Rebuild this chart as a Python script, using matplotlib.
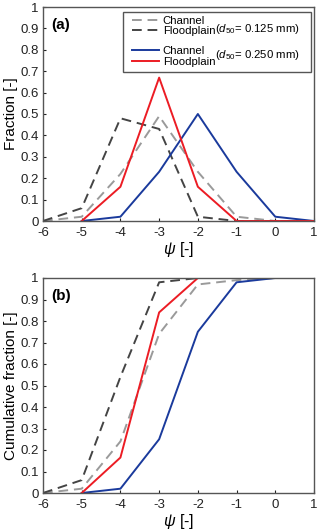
import matplotlib
matplotlib.use("Agg")
import matplotlib.pyplot as plt
from matplotlib.lines import Line2D
from matplotlib.patches import Rectangle

plt.rcParams['font.family'] = ['Liberation Sans', 'DejaVu Sans']
plt.rcParams['mathtext.fontset'] = 'custom'
plt.rcParams['mathtext.rm'] = 'Liberation Sans'
plt.rcParams['mathtext.it'] = 'Liberation Sans:italic'

psi = [-6, -5, -4, -3, -2, -1, 0, 1]

# fraction per psi class
frac_ch_125 = [0.0, 0.02, 0.22, 0.49, 0.23, 0.02, 0.0, 0.0]
frac_fp_125 = [0.0, 0.06, 0.48, 0.43, 0.02, 0.0, 0.0, 0.0]
frac_ch_250 = [None, 0.0, 0.02, 0.23, 0.50, 0.23, 0.02, 0.0]
frac_fp_250 = [None, 0.0, 0.16, 0.67, 0.16, 0.0, 0.0, 0.0]

# cumulative fraction
cum_ch_125 = [0.0, 0.02, 0.24, 0.74, 0.97, 0.99, 1.0, 1.0]
cum_fp_125 = [0.0, 0.06, 0.54, 0.98, 1.0, 1.0, 1.0, 1.0]
cum_ch_250 = [None, 0.0, 0.02, 0.25, 0.75, 0.98, 1.0, 1.0]
cum_fp_250 = [None, 0.0, 0.165, 0.84, 1.0, 1.0, 1.0, 1.0]

yticks = [0, 0.1, 0.2, 0.3, 0.4, 0.5, 0.6, 0.7, 0.8, 0.9, 1]
yticklabels = ["0", "0.1", "0.2", "0.3", "0.4", "0.5", "0.6", "0.7", "0.8", "0.9", "1"]

c_light = "#9a9a9a"
c_dark = "#444444"
c_blue = "#1a3a9c"
c_red = "#ec1c24"
dash = (0, (5, 3))


def clean(x, y):
    pts = [(a, b) for a, b in zip(x, y) if b is not None]
    return [p[0] for p in pts], [p[1] for p in pts]


fig = plt.figure(figsize=(3.2, 5.3), dpi=100)
ax1 = fig.add_axes([43 / 320, 1 - 221 / 530, 271 / 320, 214 / 530])
ax2 = fig.add_axes([43 / 320, 1 - 493 / 530, 271 / 320, 215 / 530])

series = [
    (frac_ch_125, cum_ch_125, c_light, dash),
    (frac_fp_125, cum_fp_125, c_dark, dash),
    (frac_ch_250, cum_ch_250, c_blue, "-"),
    (frac_fp_250, cum_fp_250, c_red, "-"),
]

for f, c, col, ls in series:
    ax1.plot(*clean(psi, f), color=col, ls=ls, lw=1.4)
    ax2.plot(*clean(psi, c), color=col, ls=ls, lw=1.4)

for ax, lab, yl in [(ax1, "(a)", "Fraction [-]"), (ax2, "(b)", "Cumulative fraction [-]")]:
    ax.set_xlim(-6, 1)
    ax.set_ylim(0, 1)
    ax.set_xticks(psi)
    ax.set_xticklabels([str(v) for v in psi])
    ax.set_yticks(yticks)
    ax.set_yticklabels(yticklabels)
    ax.tick_params(direction="in", length=2, labelsize=9.5, colors="#222222")
    ax.tick_params(axis="y", pad=3)
    ax.tick_params(axis="x", pad=4)
    for s in ax.spines.values():
        s.set_color("#555555")
        s.set_linewidth(1.0)
    ax.set_ylabel(yl, fontsize=11, labelpad=2)
    ax.set_xlabel(r"$\psi$ [-]", fontsize=11.5, labelpad=1)
    ax.text(0.03, 0.915, lab, transform=ax.transAxes, fontsize=11, fontweight="bold",
            va="center", ha="left")

# legend box drawn by hand so the d50 notes fit inside
ax1.add_patch(Rectangle((0.295, 0.696), 0.695, 0.281, transform=ax1.transAxes,
                        facecolor="white", edgecolor="#555555", lw=1.0, zorder=4))

handles = [
    Line2D([], [], color=c_light, ls=dash, lw=1.4),
    Line2D([], [], color=c_dark, ls=dash, lw=1.4),
    Line2D([], [], color="none"),
    Line2D([], [], color=c_blue, lw=1.4),
    Line2D([], [], color=c_red, lw=1.4),
]
labels = ["Channel", "Floodplain", "", "Channel", "Floodplain"]
leg = ax1.legend(handles, labels, loc="upper left", bbox_to_anchor=(0.32, 0.97),
                 fontsize=8.2, frameon=False, handlelength=2.4,
                 handletextpad=0.3, labelspacing=0.05, borderpad=0.2,
                 borderaxespad=0)
leg.set_zorder(5)
leg.get_texts()[2].set_fontsize(2)

ax1.text(0.635, 0.895, r"($\it{d}_{\it{50}}$= 0.125 mm)", transform=ax1.transAxes,
         fontsize=8.2, va="center", ha="left", zorder=6)
ax1.text(0.635, 0.775, r"($\it{d}_{\it{50}}$= 0.250 mm)", transform=ax1.transAxes,
         fontsize=8.2, va="center", ha="left", zorder=6)

fig.savefig("out.png", dpi=100)
